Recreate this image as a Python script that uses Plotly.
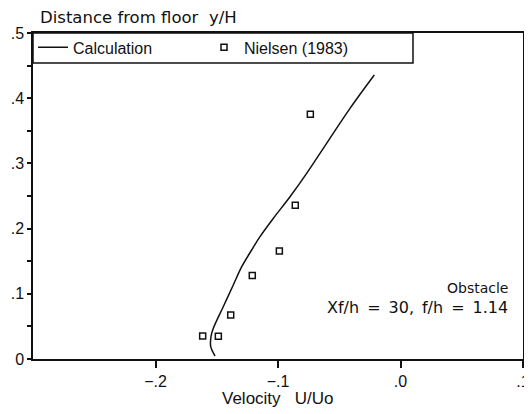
import plotly.graph_objects as go

# Calculation curve (U/Uo, y/H)
calc_u = [-0.1514, -0.1549, -0.1547, -0.1528, -0.1447, -0.1365, -0.1296, -0.1215,
          -0.1147, -0.1038, -0.0902, -0.0766, -0.0576, -0.0412, -0.0214]
calc_y = [0.0046, 0.0189, 0.0342, 0.0471, 0.0802, 0.1135, 0.1416, 0.1672,
          0.1876, 0.2158, 0.2489, 0.2848, 0.3385, 0.3845, 0.4356]

# Nielsen (1983) measurements
niel_u = [-0.1615, -0.1487, -0.1386, -0.1210, -0.0989, -0.0859, -0.0736]
niel_y = [0.0353, 0.0350, 0.0675, 0.1280, 0.1656, 0.2357, 0.3753]

x_tickvals = [-0.2, -0.1, 0.0, 0.1]
x_ticktext = ["\u2212.2", "\u2212.1", ".0", ".1"]
y_tickvals = [0, 0.1, 0.2, 0.3, 0.4, 0.5]
y_ticktext = ["0", ".1", ".2", ".3", ".4", ".5"]

FONT = "Liberation Sans"
WIDE = "DejaVu Sans"
INK = "#111111"

fig = go.Figure()
fig.add_trace(go.Scatter(x=calc_u, y=calc_y, mode="lines", name="Calculation",
                         legendwidth=126,
                         line=dict(color=INK, width=1.5, shape="spline")))
fig.add_trace(go.Scatter(x=niel_u, y=niel_y, mode="markers", name="Nielsen (1983)",
                         legendwidth=160,
                         marker=dict(symbol="square-open", size=6, color=INK,
                                     line=dict(width=1.5, color=INK))))

# the page body adds an 8px margin, so the figure is sized to fit the window
fig.update_layout(
    width=524, height=406,
    margin=dict(l=25, r=9, t=25, b=55, autoexpand=False),
    paper_bgcolor="white", plot_bgcolor="white",
    font=dict(family=FONT, size=16, color=INK),
    showlegend=True,
    legend=dict(orientation="h", x=0, y=1.008, xanchor="left", yanchor="top",
                borderwidth=0, bgcolor="rgba(0,0,0,0)",
                font=dict(family=FONT, size=16, color=INK),
                itemwidth=30, tracegroupgap=0),
    xaxis=dict(range=[-0.3, 0.1], tickvals=x_tickvals, ticktext=x_ticktext,
               ticks="outside", ticklen=7, tickwidth=1.5, tickcolor=INK,
               showline=True, linecolor=INK, linewidth=1.5, mirror=True,
               showgrid=False, zeroline=False, automargin=False,
               tickfont=dict(family=FONT, size=16, color=INK)),
    yaxis=dict(range=[0, 0.5], tickvals=y_tickvals, ticktext=y_ticktext,
               ticks="outside", ticklen=4, tickwidth=1.5, tickcolor=INK,
               showline=True, linecolor=INK, linewidth=1.5, mirror=True,
               showgrid=False, zeroline=False, automargin=False,
               minor=dict(tickvals=[0.05, 0.15, 0.25, 0.35, 0.45], ticks="outside",
                          ticklen=4, tickwidth=1.5, tickcolor=INK),
               tickfont=dict(family=FONT, size=16, color=INK)),
)

# legend frame
fig.add_shape(type="rect", xref="paper", yref="paper", x0=0, x1=0.7755,
              y0=0.908, y1=1, line=dict(color=INK, width=1.5), layer="above")

fig.add_annotation(text="Distance from floor  y/H", xref="paper", yref="paper",
                   x=0.4204, y=1.049, xanchor="right", yanchor="middle", showarrow=False,
                   font=dict(family=WIDE, size=16.5, color=INK))
fig.add_annotation(text="Velocity   U/Uo", xref="paper", yref="paper",
                   x=0.5, y=-0.122, xanchor="center", yanchor="middle", showarrow=False,
                   font=dict(family=FONT, size=17, color=INK))
fig.add_annotation(text="Obstacle", xref="paper", yref="paper",
                   x=0.9735, y=0.218, xanchor="right", yanchor="middle", showarrow=False,
                   font=dict(family=WIDE, size=14, color=INK))
fig.add_annotation(text="Xf/h\u2002=\u200230,\u2002f/h\u2002=\u20021.14", xref="paper", yref="paper",
                   x=0.9735, y=0.158, xanchor="right", yanchor="middle", showarrow=False,
                   font=dict(family=WIDE, size=16, color=INK))

fig.write_html("out.html")
